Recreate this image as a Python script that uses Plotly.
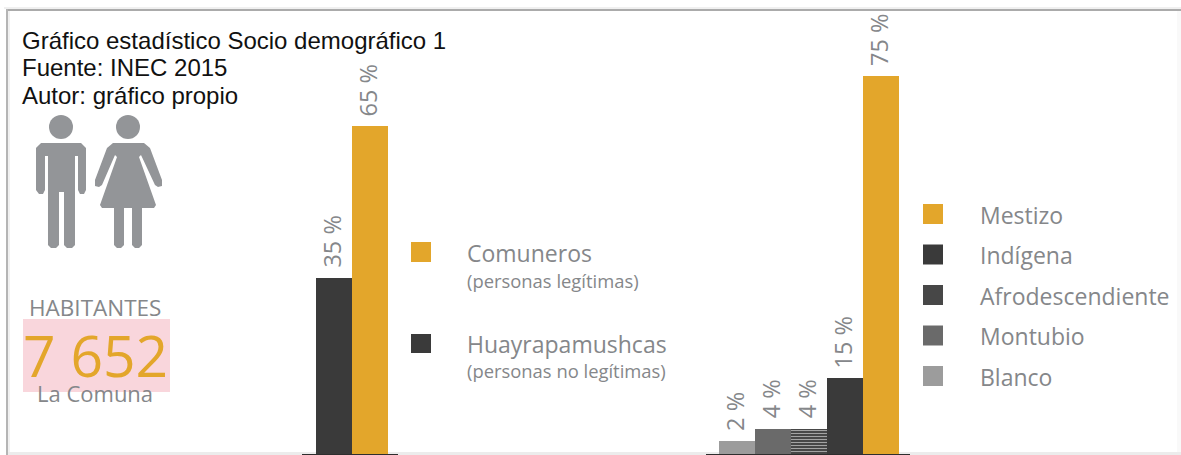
import plotly.graph_objects as go

W, H = 1181, 455

# ---- data
status_categories = ["Huayrapamushcas", "Comuneros"]
status_values = [35, 65]
status_labels = ["35 %", "65 %"]
status_sublabels = ["(personas no legítimas)", "(personas legítimas)"]

ethnic_categories = ["Blanco", "Montubio", "Afrodescendiente", "Indígena", "Mestizo"]
ethnic_values = [2.5, 5, 5, 15, 75]      # drawn heights as seen in the picture
ethnic_labels = ["2 %", "4 %", "4 %", "15 %", "75 %"]

info_lines = ["Gráfico estadístico Socio demográfico 1", "Fuente: INEC 2015", "Autor: gráfico propio"]
ORANGE, DARK, AFRO, MONT, BLAN = "#E3A62B", "#3A3A3A", "#474747", "#6A6A6A", "#9C9C9C"
status_colors = [DARK, ORANGE]
ethnic_colors = [BLAN, MONT, AFRO, DARK, ORANGE]
GREY = "#85878A"
FONT = "Open Sans"
ICON = "#939598"


def px(x):
    return x / W


def py(y):
    return 1 - y / H


def rect(x0, y0, x1, y1, color):
    return dict(type="rect", xref="paper", yref="paper", layer="below",
                x0=px(x0), x1=px(x1), y0=py(y1), y1=py(y0),
                fillcolor=color, line=dict(width=0))


def path(points, color):
    d = "M " + " L ".join(f"{px(x):.5f},{py(y):.5f}" for x, y in points) + " Z"
    return dict(type="path", xref="paper", yref="paper", path=d,
                fillcolor=color, line=dict(width=0))


def circle(cx, cy, r, color):
    return dict(type="circle", xref="paper", yref="paper",
                x0=px(cx - r), x1=px(cx + r), y0=py(cy + r), y1=py(cy - r),
                fillcolor=color, line=dict(width=0))


def text(x, y, s, size, color=GREY, family=FONT, anchor="left"):
    return dict(xref="paper", yref="paper", x=px(x), y=py(y), text=s, showarrow=False,
                xanchor=anchor, yanchor="middle", align=anchor,
                font=dict(size=size, color=color, family=family),
                borderpad=0, borderwidth=0)


fig = go.Figure()
fig.add_bar(x=status_categories, y=status_values, marker=dict(color=status_colors, line=dict(width=0)),
            xaxis="x", yaxis="y", width=1, showlegend=False)
fig.add_bar(x=ethnic_categories, y=ethnic_values,
            marker=dict(color=ethnic_colors, line=dict(width=0),
                        pattern=dict(shape=["", "", "-", "", ""], fgcolor="#3E3E3E",
                                     bgcolor=AFRO, size=3, solidity=0.35)),
            xaxis="x2", yaxis="y2", width=1, showlegend=False)

annotations = []
for cats, vals, labs, ax in [(status_categories, status_values, status_labels, "1"),
                             (ethnic_categories, ethnic_values, ethnic_labels, "2")]:
    for c, v, t in zip(cats, vals, labs):
        annotations.append(dict(x=c, y=v, xref="x" if ax == "1" else "x2", yref="y" if ax == "1" else "y2",
                                text=t, showarrow=False, textangle=-90, yanchor="bottom",
                                yshift=8, xshift=-2,
                                font=dict(size=23.5, color=GREY, family=FONT)))

for i, line in enumerate(info_lines):
    annotations.append(text(22, 40 + i * 27.5, line, 24, "#111111", "Liberation Sans"))

annotations += [
    text(95, 307, "HABITANTES", 22.5, anchor="center"),
    text(96, 355, "7 652", 57, ORANGE, anchor="center"),
    text(95, 393, "La Comuna", 22, anchor="center"),
    text(467, 253, status_categories[1], 23),
    text(467, 280, status_sublabels[1], 18.4),
    text(467, 344, status_categories[0], 23),
    text(467, 370, status_sublabels[0], 18.4),
]

shapes = [
    rect(23, 319, 170, 392, "#F9D6DC"),
    rect(411, 242, 431, 262, ORANGE),
    rect(411, 334, 431, 353, DARK),
    # frame
    rect(4, 7, 1181, 9, "#F0F0F0"),
    rect(6, 9, 1181, 11, "#ABABAB"),
    rect(6, 9, 8, 455, "#B5B5B5"),
    rect(8, 11, 10, 452, "#F1F1F1"),
    rect(8, 452, 1181, 455, "#ECECEC"),
    rect(1177, 11, 1181, 452, "#F9F9F9"),
]

legend_order = list(reversed(ethnic_categories))
legend_colors = list(reversed(ethnic_colors))
for i, (name, col) in enumerate(zip(legend_order, legend_colors)):
    cy = 214 + i * 40.5
    shapes.append(rect(923, cy - 10, 943, cy + 10, col))
    annotations.append(text(980, cy + 0.5, name, 23))

# pictograms
shapes += [circle(61, 127, 12, ICON), circle(128, 127, 12, ICON)]
man = [(41, 143), (81, 143), (86, 148), (86, 190), (84, 194), (80, 194), (78, 190), (78, 156), (75, 156),
       (75, 245), (72, 248), (67, 248), (64, 245), (64, 192), (59, 192), (59, 245), (56, 248), (51, 248),
       (48, 245), (48, 156), (45, 156), (45, 190), (43, 194), (39, 194), (36, 190), (36, 148)]
woman = [(113, 143), (144, 143), (150, 148), (162, 180), (162, 186), (158, 187), (155, 185), (141, 155),
         (139, 157), (156, 205), (154, 208), (142, 208), (142, 245), (139, 248), (135, 248), (132, 245),
         (132, 208), (124, 208), (124, 245), (121, 248), (117, 248), (114, 245), (114, 208), (102, 208),
         (100, 205), (117, 157), (115, 155), (102, 185), (99, 187), (95, 186), (95, 180), (107, 148)]
shapes += [path(man, ICON), path(woman, ICON)]

scale = 5.04
ymax = 454 / scale
BAR = 36

layout_axis = dict(showgrid=False, zeroline=False, showticklabels=False, ticks="", fixedrange=True)
fig.update_layout(
    width=W, height=H, autosize=False,
    margin=dict(l=0, r=0, t=0, b=0, pad=0),
    paper_bgcolor="white", plot_bgcolor="rgba(0,0,0,0)",
    bargap=0,
    shapes=shapes, annotations=annotations,
    xaxis=dict(layout_axis, domain=[px(302), px(398)], type="category",
               categoryorder="array", categoryarray=status_categories,
               range=[-0.5 - 14 / BAR, 1.5 + 10 / BAR],
               showline=True, linecolor="#2E2E2E", linewidth=2, anchor="y"),
    yaxis=dict(layout_axis, domain=[1 / H, 1], range=[0, ymax], anchor="x"),
    xaxis2=dict(layout_axis, domain=[px(706), px(910)], type="category",
                categoryorder="array", categoryarray=ethnic_categories,
                range=[-0.5 - 13 / BAR, 4.5 + 11 / BAR],
                showline=True, linecolor="#2E2E2E", linewidth=2, anchor="y2"),
    yaxis2=dict(layout_axis, domain=[1 / H, 1], range=[0, ymax], anchor="x2"),
    showlegend=False,
)

fig.write_html("out.html", config=dict(displayModeBar=False),
               post_script="document.body.style.margin='0';document.documentElement.style.overflow='hidden';")
